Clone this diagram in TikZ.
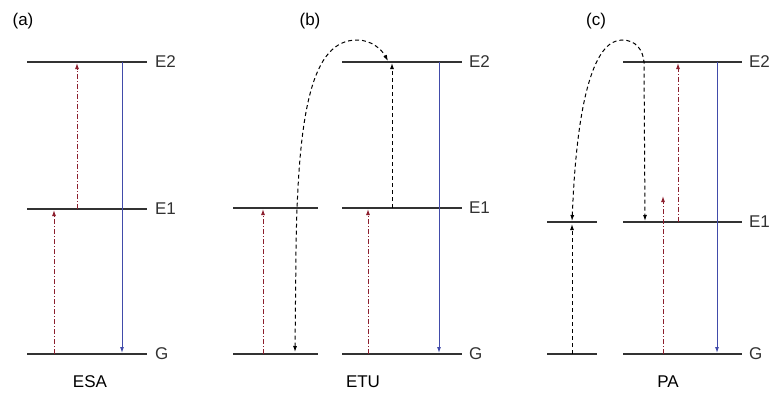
\documentclass[tikz,border=0pt]{standalone}
\usepackage{fontspec}
\setmainfont{Liberation Sans}
\usetikzlibrary{arrows.meta}
\definecolor{exred}{RGB}{140,30,45}
\definecolor{decblue}{RGB}{65,75,170}
\definecolor{levgray}{RGB}{50,50,50}
\tikzset{
  tip/.style={-{Latex[length=6pt,width=4pt]}},
  level/.style={levgray,line width=2pt},
  excite/.style={exred,line width=1pt,dash pattern=on 5pt off 2pt on 1pt off 2pt,tip},
  decay/.style={decblue,line width=1pt,tip},
  transfer/.style={black,line width=1pt,dash pattern=on 4pt off 3pt},
  lab/.style={font=\fontsize{17}{20}\selectfont,inner sep=0pt}
}

\begin{document}
\begin{tikzpicture}[x=1pt,y=-1pt]
\useasboundingbox (0,0) rectangle (770,394);
% (a) ESA
\node[lab] (pa) at (23,21) {(a)};
\draw[level] (27,62) -- (147,62) node[lab,anchor=west,xshift=7pt] (aE2) {E2};
\draw[level] (27,209) -- (147,209) node[lab,anchor=west,xshift=7pt] (aE1) {E1};
\draw[level] (27,354) -- (147,354) node[lab,anchor=west,xshift=7pt] (aG) {G};
\draw[excite] (54,354) -- (54,210);
\draw[excite] (77,209) -- (77,63);
\draw[decay] (122,62) -- (122,353);
\node[lab] (esa) at (90,382) {ESA};
% (b) ETU
\node[lab] (pb) at (310,21) {(b)};
\draw[level] (233,208) -- (318,208);
\draw[level] (233,354) -- (318,354);
\draw[level] (342,62) -- (462,62) node[lab,anchor=west,xshift=6pt] (bE2) {E2};
\draw[level] (342,208) -- (462,208) node[lab,anchor=west,xshift=6pt] (bE1) {E1};
\draw[level] (342,354) -- (462,354) node[lab,anchor=west,xshift=6pt] (bG) {G};
\draw[excite] (263,354) -- (263,209);
\draw[excite] (368,354) -- (368,209);
\draw[transfer,tip] (392,208) -- (392,63);
\draw[decay] (439,62) -- (439,353);
\draw[transfer,{Latex[length=6pt,width=4pt]}-{Latex[length=6pt,width=4pt]}]
  (295,352) -- (296,250) .. controls (298,110) and (312,40) .. (357,40)
  .. controls (372,40) and (382,50) .. (388,61);
\node[lab] (etu) at (363,382) {ETU};
% (c) PA
\node[lab] (pc) at (596,21) {(c)};
\draw[level] (547,222) -- (597,222);
\draw[level] (547,354) -- (597,354);
\draw[level] (623,62) -- (742,62) node[lab,anchor=west,xshift=6pt] (cE2) {E2};
\draw[level] (623,222) -- (742,222) node[lab,anchor=west,xshift=6pt] (cE1) {E1};
\draw[level] (623,354) -- (742,354) node[lab,anchor=west,xshift=6pt] (cG) {G};
\draw[transfer,tip] (572,354) -- (572,224);
\draw[transfer,{Latex[length=6pt,width=4pt]}-{Latex[length=6pt,width=4pt]}]
  (572,221) -- (573,200) .. controls (578,100) and (594,40) .. (622,40)
  .. controls (636,40) and (643,50) .. (644,62) -- (645,221);
\draw[excite] (663,354) -- (663,196);
\draw[excite] (678,222) -- (678,63);
\draw[decay] (717,62) -- (717,353);
\node[lab] (pa2) at (668,382) {PA};
\end{tikzpicture}
\end{document}
